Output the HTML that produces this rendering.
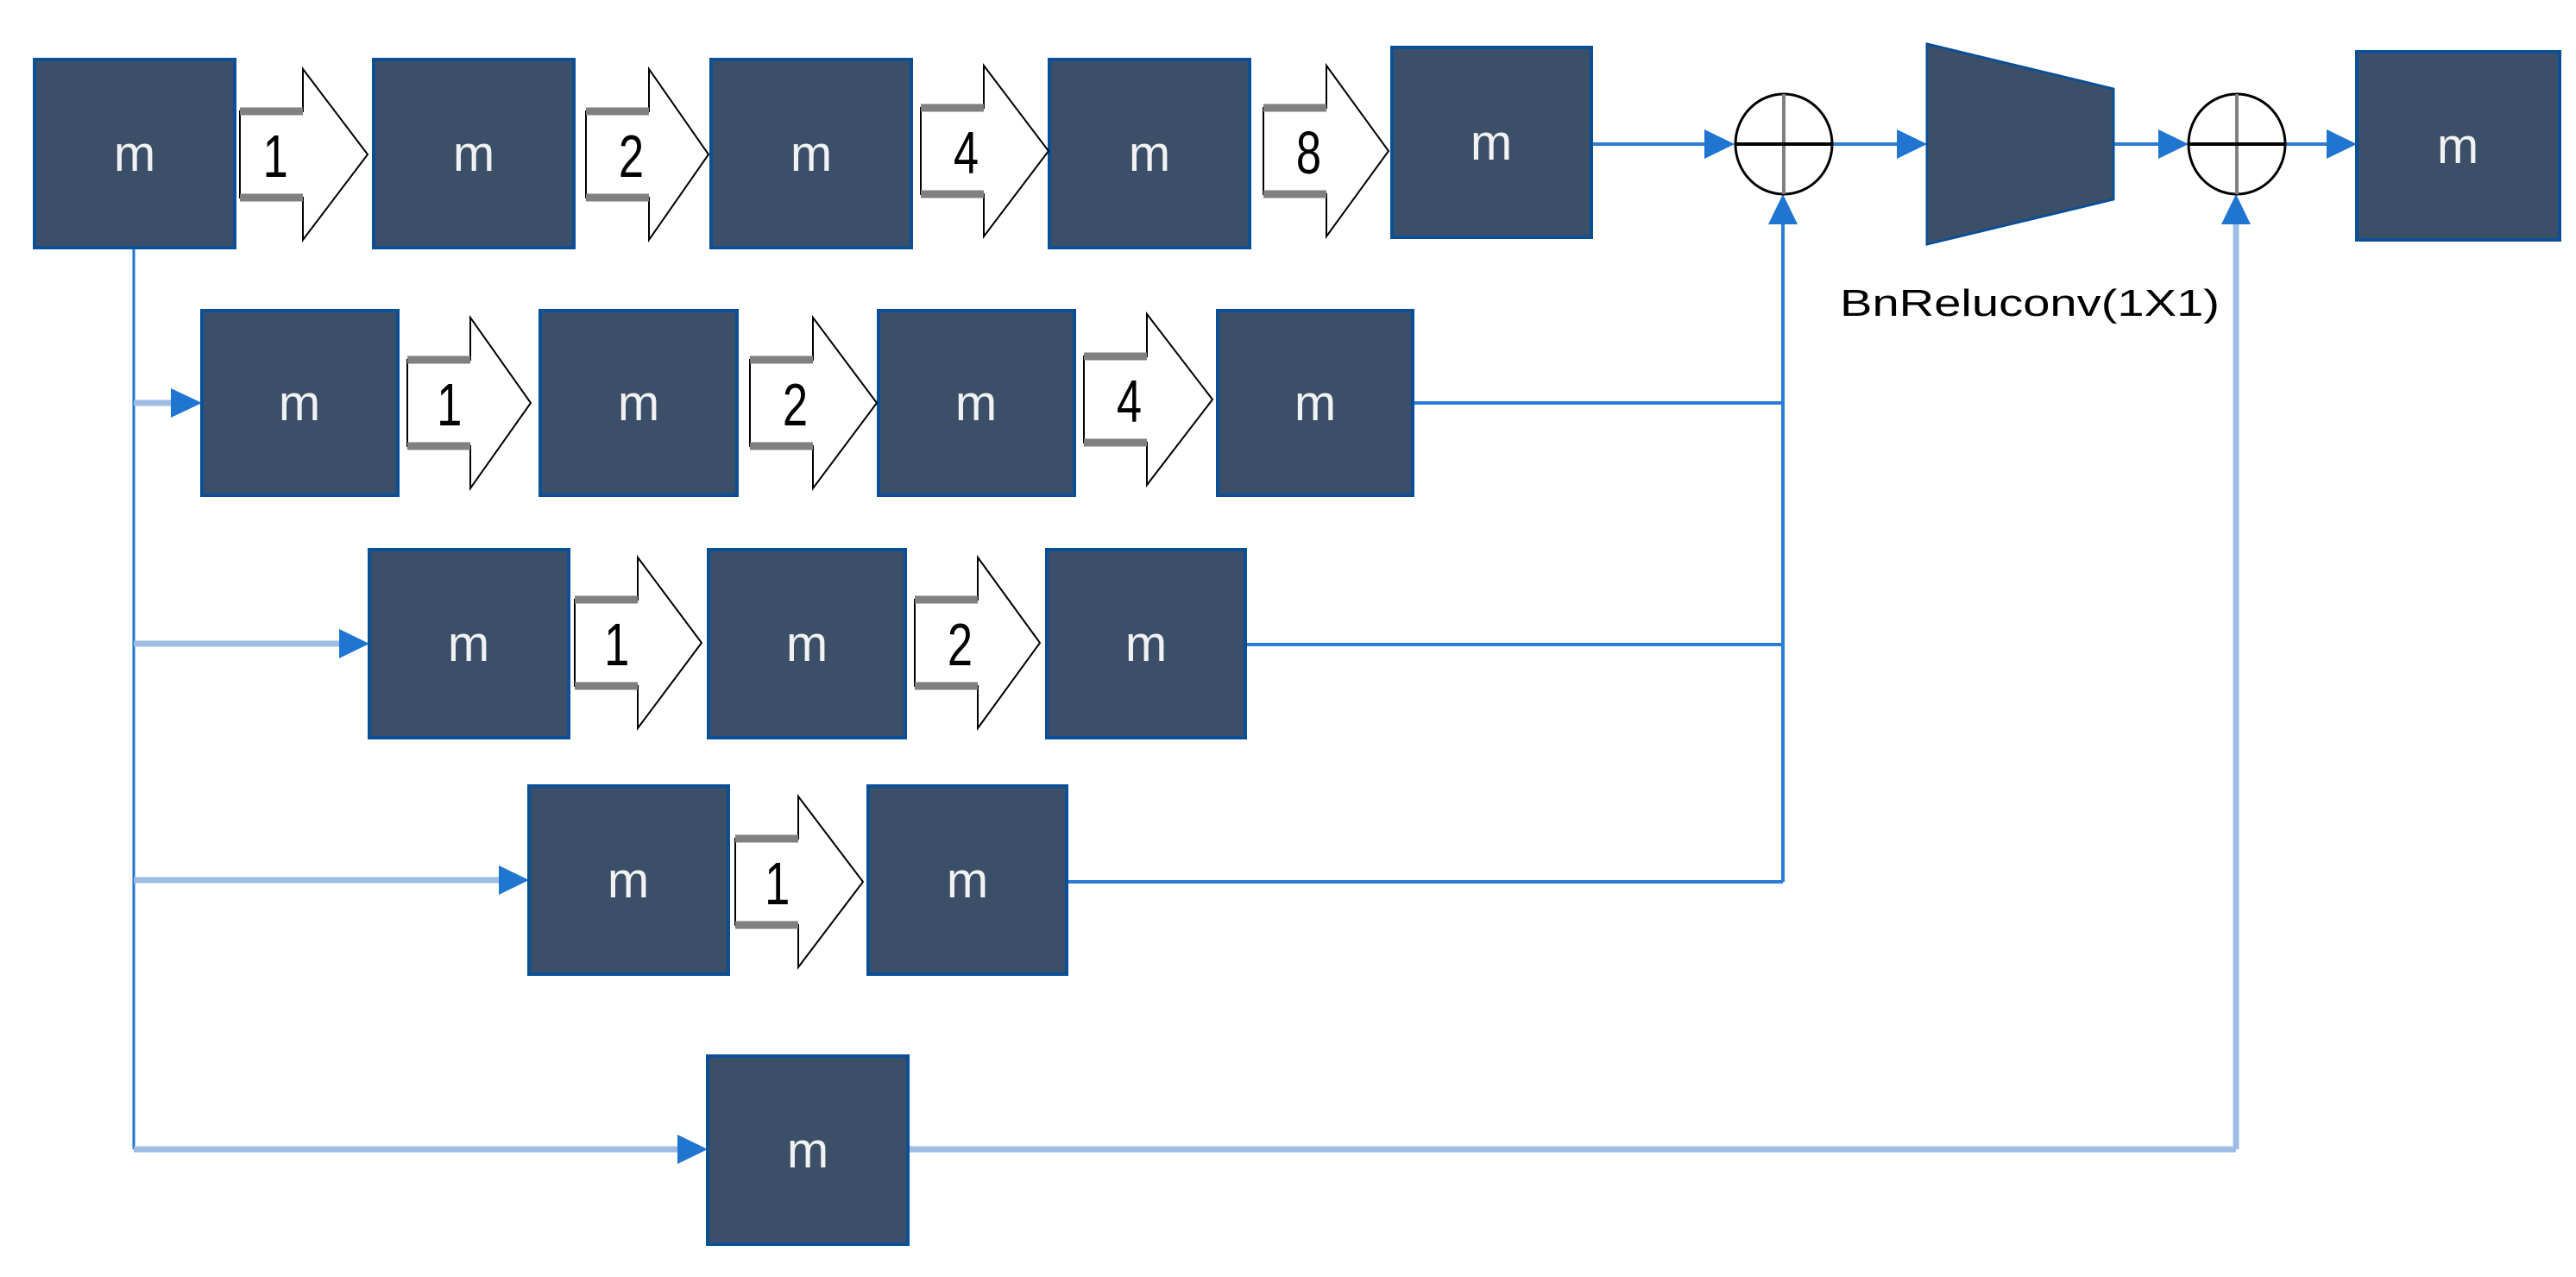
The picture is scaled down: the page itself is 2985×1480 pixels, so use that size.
<!DOCTYPE html>
<html><head><meta charset="utf-8"><style>
html,body{margin:0;padding:0;background:#fff;}
svg{display:block;}
.m{font-family:"Liberation Sans",sans-serif;font-size:58px;fill:#f2f2f2;text-anchor:middle;}
.d{font-family:"Liberation Sans",sans-serif;font-size:70px;fill:#000;text-anchor:middle;}
</style></head><body>
<svg width="2985" height="1480" viewBox="0 0 2985 1480" xmlns="http://www.w3.org/2000/svg">
<defs>
<marker id="ah" markerWidth="10" markerHeight="10" refX="9" refY="5" orient="auto" markerUnits="userSpaceOnUse" viewBox="0 0 10 10">
</marker>
</defs>
<g fill="none" stroke="#1f75d0" stroke-width="3">
<!-- left trunk -->
<line x1="155" y1="287" x2="155" y2="1332"/>
</g>
<g stroke="#9dbde6" stroke-width="7" fill="none">
<line x1="155" y1="467" x2="215" y2="467"/>
<line x1="155" y1="746" x2="410" y2="746"/>
<line x1="155" y1="1020" x2="595" y2="1020"/>
<line x1="155" y1="1332" x2="800" y2="1332"/>
<line x1="1052" y1="1332" x2="2591" y2="1332"/>
<line x1="2591" y1="1332" x2="2591" y2="258"/>
</g>
<g stroke="#2c7bd4" stroke-width="4" fill="none">
<line x1="1637" y1="467" x2="2066" y2="467"/>
<line x1="1443" y1="747" x2="2066" y2="747"/>
<line x1="1236" y1="1022" x2="2066" y2="1022"/>
<line x1="2066" y1="1022" x2="2066" y2="258"/>
<line x1="1844" y1="167" x2="1992" y2="167"/>
<line x1="2123" y1="167" x2="2215" y2="167"/>
<line x1="2449" y1="167" x2="2518" y2="167"/>
<line x1="2648" y1="167" x2="2713" y2="167"/>
</g>
<g fill="#1f75d0">
<polygon points="198,450 234,467 198,484"/>
<polygon points="393,729 428,746 393,763"/>
<polygon points="578,1003 613,1020 578,1037"/>
<polygon points="785,1315 820,1332 785,1349"/>
<polygon points="1975,150 2010,167 1975,184"/>
<polygon points="2198,150 2233,167 2198,184"/>
<polygon points="2501,150 2536,167 2501,184"/>
<polygon points="2696,150 2731,167 2696,184"/>
<polygon points="2049,260 2066,225 2083,260"/>
<polygon points="2574,260 2591,225 2608,260"/>
</g>
<!-- circles -->
<g stroke="#000" stroke-width="3" fill="#fff">
<ellipse cx="2067" cy="167" rx="56" ry="58"/>
<ellipse cx="2592" cy="167" rx="56" ry="58"/>
</g>
<g stroke-width="4">
<line x1="2067" y1="109" x2="2067" y2="225" stroke="#808080"/>
<line x1="2011" y1="167" x2="2123" y2="167" stroke="#000"/>
<line x1="2592" y1="109" x2="2592" y2="225" stroke="#808080"/>
<line x1="2536" y1="167" x2="2648" y2="167" stroke="#000"/>
</g>
<!-- trapezoid -->
<polygon points="2233,51 2449,103 2449,231 2233,283" fill="#3b5068" stroke="#0b4f96" stroke-width="3"/>
<text x="2352" y="366" font-family="Liberation Sans, sans-serif" font-size="44" textLength="440" lengthAdjust="spacingAndGlyphs" text-anchor="middle" fill="#000">BnReluconv(1X1)</text>
<!-- boxes -->
<g fill="#3b5068" stroke="#0b4f96" stroke-width="4">
<rect x="40" y="69" width="232" height="218"/>
<rect x="433" y="69" width="232" height="218"/>
<rect x="824" y="69" width="232" height="218"/>
<rect x="1216" y="69" width="232" height="218"/>
<rect x="1613" y="55" width="231" height="220"/>
<rect x="2731" y="60" width="235" height="218"/>
<rect x="234" y="360" width="227" height="214"/>
<rect x="626" y="360" width="228" height="214"/>
<rect x="1018" y="360" width="227" height="214"/>
<rect x="1411" y="360" width="226" height="214"/>
<rect x="428" y="637" width="231" height="218"/>
<rect x="821" y="637" width="228" height="218"/>
<rect x="1213" y="637" width="230" height="218"/>
<rect x="613" y="911" width="231" height="218"/>
<rect x="1006" y="911" width="230" height="218"/>
<rect x="820" y="1224" width="232" height="218"/>
</g>
<g class="m">
<text x="156" y="198">m</text>
<text x="549" y="198">m</text>
<text x="940" y="198">m</text>
<text x="1332" y="198">m</text>
<text x="1728" y="185">m</text>
<text x="2848" y="189">m</text>
<text x="347" y="487">m</text>
<text x="740" y="487">m</text>
<text x="1131" y="487">m</text>
<text x="1524" y="487">m</text>
<text x="543" y="766">m</text>
<text x="935" y="766">m</text>
<text x="1328" y="766">m</text>
<text x="728" y="1040">m</text>
<text x="1121" y="1040">m</text>
<text x="936" y="1353">m</text>
</g>
<!-- block arrows -->
<g id="arrows">
<!-- generic: x0, xh, x1, cy -->
<g transform="translate(278,179)"><polygon points="0,-50 73,-50 73,-99 148,0 73,99 73,50 0,50" fill="#fff" stroke="#000" stroke-width="2"/><path d="M0,-50H73M0,50H73" stroke="#808080" stroke-width="9"/><text class="d" x="55" y="26" transform="scale(0.75,1)">1</text></g>
<g transform="translate(679,179)"><polygon points="0,-50 73,-50 73,-99 142,0 73,99 73,50 0,50" fill="#fff" stroke="#000" stroke-width="2"/><path d="M0,-50H73M0,50H73" stroke="#808080" stroke-width="9"/><text class="d" x="70" y="26" transform="scale(0.75,1)">2</text></g>
<g transform="translate(1067,175)"><polygon points="0,-50 73,-50 73,-99 148,0 73,99 73,50 0,50" fill="#fff" stroke="#000" stroke-width="2"/><path d="M0,-50H73M0,50H73" stroke="#808080" stroke-width="9"/><text class="d" x="70" y="26" transform="scale(0.75,1)">4</text></g>
<g transform="translate(1464,175)"><polygon points="0,-50 73,-50 73,-99 145,0 73,99 73,50 0,50" fill="#fff" stroke="#000" stroke-width="2"/><path d="M0,-50H73M0,50H73" stroke="#808080" stroke-width="9"/><text class="d" x="70" y="26" transform="scale(0.75,1)">8</text></g>

<g transform="translate(472,467)"><polygon points="0,-50 73,-50 73,-99 143,0 73,99 73,50 0,50" fill="#fff" stroke="#000" stroke-width="2"/><path d="M0,-50H73M0,50H73" stroke="#808080" stroke-width="9"/><text class="d" x="65" y="26" transform="scale(0.75,1)">1</text></g>
<g transform="translate(869,467)"><polygon points="0,-50 73,-50 73,-99 147,0 73,99 73,50 0,50" fill="#fff" stroke="#000" stroke-width="2"/><path d="M0,-50H73M0,50H73" stroke="#808080" stroke-width="9"/><text class="d" x="70" y="26" transform="scale(0.75,1)">2</text></g>
<g transform="translate(1256,463)"><polygon points="0,-50 73,-50 73,-99 149,0 73,99 73,50 0,50" fill="#fff" stroke="#000" stroke-width="2"/><path d="M0,-50H73M0,50H73" stroke="#808080" stroke-width="9"/><text class="d" x="70" y="26" transform="scale(0.75,1)">4</text></g>

<g transform="translate(666,745)"><polygon points="0,-50 73,-50 73,-99 147,0 73,99 73,50 0,50" fill="#fff" stroke="#000" stroke-width="2"/><path d="M0,-50H73M0,50H73" stroke="#808080" stroke-width="9"/><text class="d" x="65" y="26" transform="scale(0.75,1)">1</text></g>
<g transform="translate(1060,745)"><polygon points="0,-50 73,-50 73,-99 145,0 73,99 73,50 0,50" fill="#fff" stroke="#000" stroke-width="2"/><path d="M0,-50H73M0,50H73" stroke="#808080" stroke-width="9"/><text class="d" x="70" y="26" transform="scale(0.75,1)">2</text></g>

<g transform="translate(852,1022)"><polygon points="0,-50 73,-50 73,-99 148,0 73,99 73,50 0,50" fill="#fff" stroke="#000" stroke-width="2"/><path d="M0,-50H73M0,50H73" stroke="#808080" stroke-width="9"/><text class="d" x="65" y="26" transform="scale(0.75,1)">1</text></g>
</g>
</svg>
</body></html>
